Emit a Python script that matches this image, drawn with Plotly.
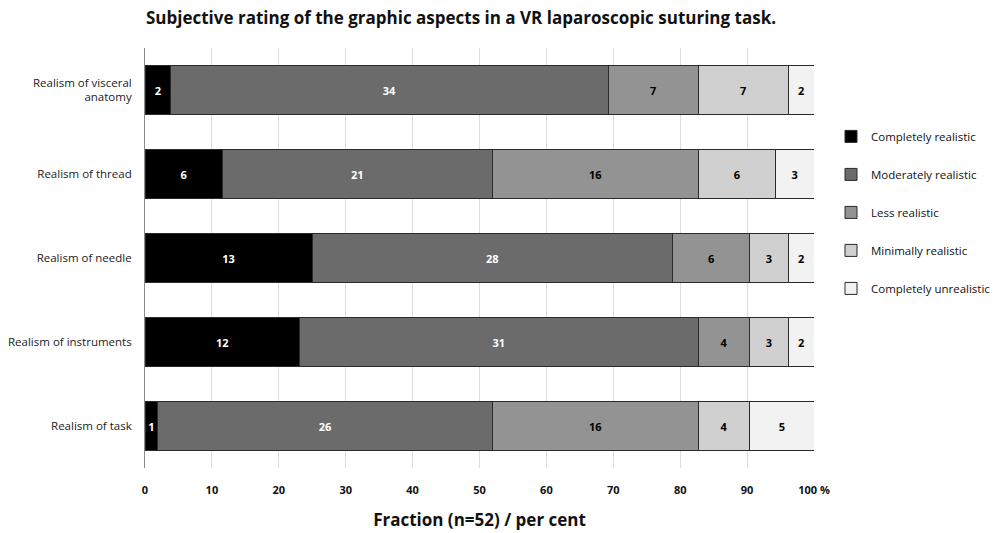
import plotly.graph_objects as go

categories = ["Realism of visceral<br>anatomy", "Realism of thread", "Realism of needle",
              "Realism of instruments", "Realism of task"]
series_names = ["Completely realistic", "Moderately realistic", "Less realistic",
                "Minimally realistic", "Completely unrealistic"]
completely_realistic = [2, 6, 13, 12, 1]
moderately_realistic = [34, 21, 28, 31, 26]
less_realistic = [7, 16, 6, 4, 16]
minimally_realistic = [7, 6, 3, 3, 4]
completely_unrealistic = [2, 3, 2, 2, 5]
n_total = 52
tick_vals = [0, 10, 20, 30, 40, 50, 60, 70, 80, 90, 100]
tick_text = ["0", "10", "20", "30", "40", "50", "60", "70", "80", "90", "100 %"]

colors = ["#000000", "#6b6b6b", "#939393", "#d0d0d0", "#f2f2f2"]
text_colors = ["white", "white", "black", "black", "black"]
series = [completely_realistic, moderately_realistic, less_realistic,
          minimally_realistic, completely_unrealistic]

fig = go.Figure()
for i, (name, counts) in enumerate(zip(series_names, series)):
    fig.add_trace(go.Bar(
        y=categories,
        x=[c / n_total * 100 for c in counts],
        orientation="h",
        name=name,
        legendgroup=name,
        text=[str(c) for c in counts],
        textposition="inside",
        insidetextanchor="middle",
        textangle=0,
        textfont=dict(color=text_colors[i], size=11, family="Open Sans", weight="bold"),
        marker=dict(color=colors[i], line=dict(color="#2a2a2a", width=1)),
        width=0.58,
        hoverinfo="skip",
    ))

fig.update_layout(
    barmode="stack",
    width=1000,
    height=533,
    paper_bgcolor="white",
    plot_bgcolor="white",
    font=dict(family="Open Sans", color="#222222"),
    title=dict(
        text="<b>Subjective rating of the graphic aspects in a VR laparoscopic suturing task.</b>",
        x=0.461, xanchor="center", y=0.966, yanchor="middle",
        font=dict(size=17, color="#111111"),
    ),
    margin=dict(l=145, r=186, t=48, b=65),
    xaxis=dict(
        range=[0, 100],
        tickvals=tick_vals,
        ticktext=tick_text,
        tickfont=dict(size=11, color="#111111", weight="bold"),
        showgrid=True,
        gridcolor="#dddddd",
        zeroline=False,
        showline=False,
        ticks="",
        automargin=False,
        ticklabelstandoff=14,
        title=dict(text="<b>Fraction (n=52) / per cent</b>", font=dict(size=17, color="#111111"),
                   standoff=18),
    ),
    yaxis=dict(
        categoryorder="array",
        categoryarray=categories,
        autorange="reversed",
        showline=True,
        linecolor="#888888",
        linewidth=1,
        ticks="",
        automargin=False,
        tickfont=dict(size=11.5, color="#222222"),
        ticklabelstandoff=10,
    ),
    legend=dict(
        xref="container",
        x=0.831, xanchor="left",
        y=0.824, yanchor="top",
        traceorder="grouped",
        tracegroupgap=19,
        font=dict(size=11.5, color="#111111"),
        itemwidth=30,
    ),
)

# drop the browser's default body margin so the figure sits at the page corner
fig.write_html("out.html", config={"displayModeBar": False},
               post_script="document.body.style.margin='0';")
